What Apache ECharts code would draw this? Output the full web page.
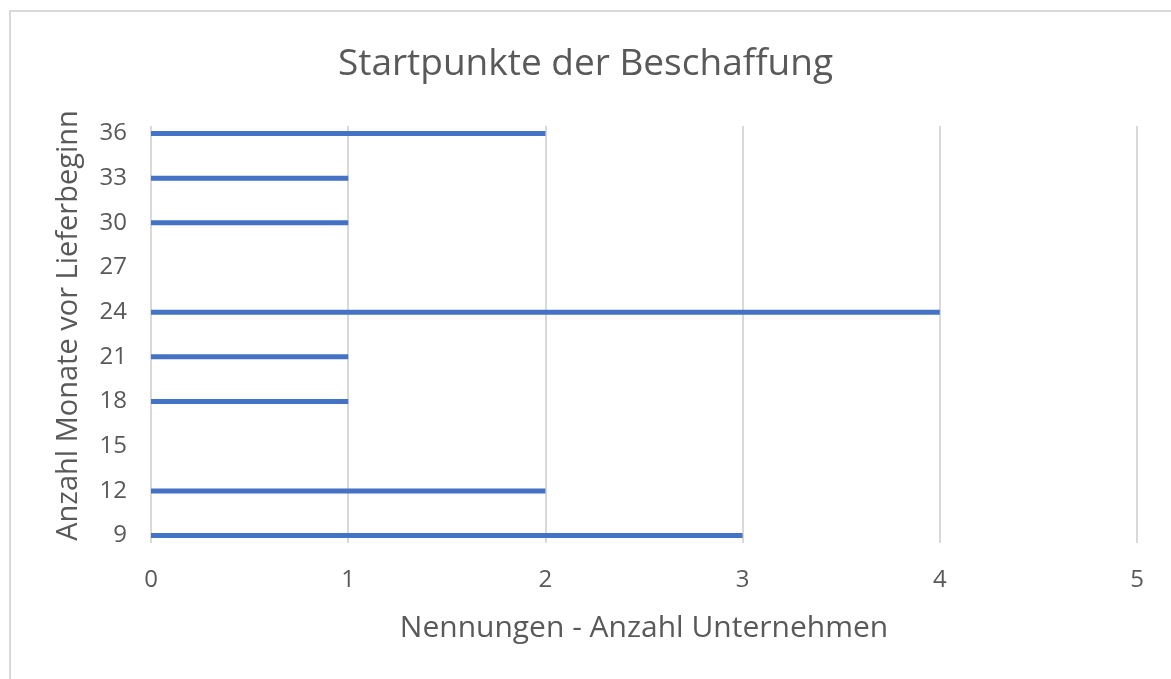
<!DOCTYPE html>
<html lang="de">
  <head>
    <meta charset="utf-8">
    <title>Startpunkte der Beschaffung</title>
    <style>
      html, body { margin: 0; padding: 0; background: #fff; }
      #chart { width: 1171px; height: 679px; }
    </style>
  </head>
  <body>
    <div id="chart"></div>
    <script src="https://cdn.jsdelivr.net/npm/echarts@6/dist/echarts.min.js"></script>
    <script>
      // Daten
      var monate = [9, 12, 15, 18, 21, 24, 27, 30, 33, 36];     // Anzahl Monate vor Lieferbeginn
      var nennungen = [3, 2, 0, 1, 1, 4, 0, 1, 1, 2];            // Anzahl Unternehmen
      var yTicks = [9, 12, 15, 18, 21, 24, 27, 30, 33, 36];
      var xTicks = [0, 1, 2, 3, 4, 5];

      var grau = '#595959';
      var schrift = '"Open Sans", "Noto Sans", sans-serif';

      var daten = monate.map(function (m, i) { return [nennungen[i], m]; });

      var chart = echarts.init(document.getElementById('chart'));
      chart.setOption({
        animation: false,
        textStyle: { fontFamily: schrift },
        title: {
          text: 'Startpunkte der Beschaffung',
          left: 'center',
          top: 41,
          textStyle: { fontSize: 37, fontWeight: 'normal', color: grau, fontFamily: schrift }
        },
        graphic: [{
          type: 'rect',
          shape: { x: 10, y: 11, width: 1300, height: 800 },
          style: { fill: 'none', stroke: '#d9d9d9', lineWidth: 2 },
          silent: true
        }],
        grid: { left: 151, right: 34, top: 126, bottom: 136 },
        xAxis: {
          type: 'value',
          min: 0, max: 5, interval: 1,
          name: 'Nennungen - Anzahl Unternehmen',
          nameLocation: 'middle',
          nameGap: 70,
          nameTextStyle: { fontSize: 30, color: grau },
          axisLine: { show: false },
          axisTick: { show: false },
          axisLabel: { fontSize: 24, color: grau, margin: 25,
            customValues: xTicks },
          splitLine: { show: true, lineStyle: { color: '#d9d9d9', width: 2 } }
        },
        yAxis: {
          type: 'value',
          min: 8.5, max: 36.5,
          name: 'Anzahl Monate vor Lieferbeginn',
          nameLocation: 'middle',
          nameGap: 68,
          nameTextStyle: { fontSize: 29, color: grau, padding: [0, 0, 0, 18] },
          axisLine: { show: false },
          axisTick: { show: false },
          axisLabel: { fontSize: 24, color: grau, margin: 24,
            customValues: yTicks },
          splitLine: { show: false }
        },
        series: [{
          type: 'custom',
          data: daten,
          encode: { x: 0, y: 1 },
          renderItem: function (params, api) {
            var start = api.coord([0, api.value(1)]);
            var end = api.coord([api.value(0), api.value(1)]);
            var h = 5;
            return {
              type: 'rect',
              shape: { x: start[0], y: start[1] - h / 2, width: end[0] - start[0], height: h },
              style: { fill: '#4472c4' }
            };
          }
        }]
      });
    </script>
  </body>
</html>
